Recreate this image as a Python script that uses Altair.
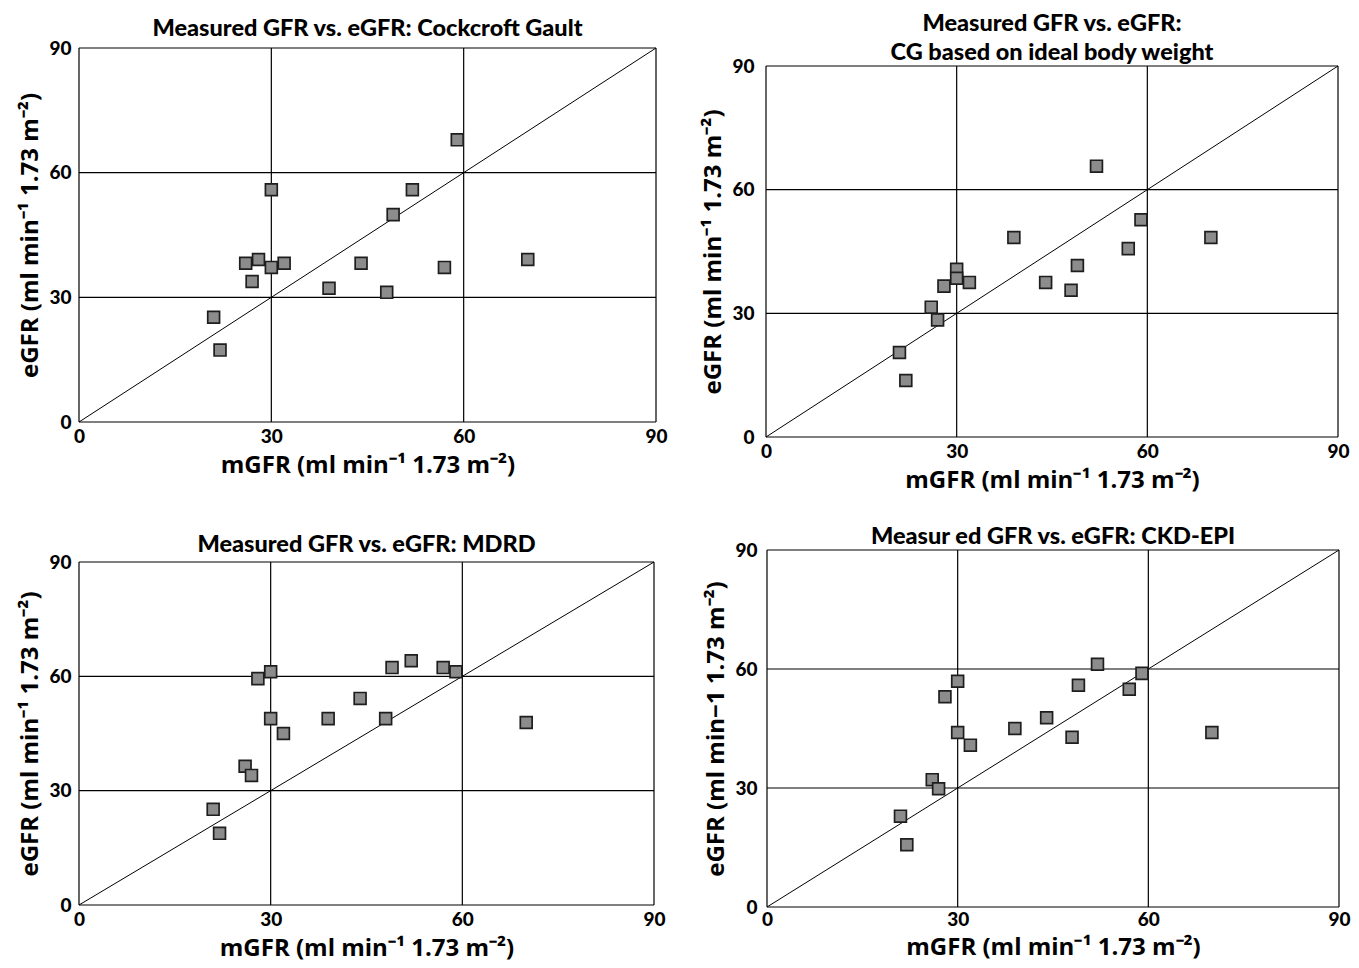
import altair as alt
import pandas as pd

# ---- data ----
mgfr = [21, 22, 26, 27, 28, 30, 30, 32, 39, 44, 48, 49, 52, 57, 59, 70]
egfr_cg = [25.2, 17.3, 38.2, 33.8, 39.1, 55.9, 37.2, 38.2, 32.2, 38.2, 31.2, 49.9, 55.9, 37.2, 67.9, 39.1]
egfr_cg_ibw = [20.5, 13.7, 31.5, 28.4, 36.6, 40.7, 38.5, 37.5, 48.4, 37.5, 35.6, 41.6, 65.7, 45.7, 52.7, 48.4]
egfr_mdrd = [25.1, 18.8, 36.4, 34.0, 59.4, 61.2, 48.9, 45.0, 48.9, 54.2, 48.9, 62.3, 64.1, 62.3, 61.2, 47.9]
egfr_ckdepi = [22.9, 15.7, 32.1, 29.8, 53.0, 56.9, 44.0, 40.8, 45.0, 47.7, 42.8, 55.9, 61.2, 54.9, 58.9, 44.0]

tick_values = [0, 30, 60, 90]
identity_line = [0, 90]

titles = [
    "Measured GFR vs. eGFR: Cockcroft Gault",
    ["Measured GFR vs. eGFR:", "CG based on ideal body weight"],
    "Measured GFR vs. eGFR: MDRD",
    "Measur ed GFR vs. eGFR: CKD-EPI",
]
x_title = "mGFR (ml min\u207b\u00b9 1.73 m\u207b\u00b2)"
y_title = "eGFR (ml min\u207b\u00b9 1.73 m\u207b\u00b2)"
y_title_epi = "eGFR (ml min\u22121 1.73 m\u207b\u00b2)"

TITLE_FONT = "Lato"
AXIS_TITLE_FONT = "Open Sans"
LABEL_FONT = "Lato"


def panel(values, title, w, h, top_pad, ytitle, title_offset, y_label_pad=8,
          x_label_pad=5, x_title_pad=7):
    total_h = h + top_pad
    df = pd.DataFrame({"mGFR": mgfr, "eGFR": values})
    diag = pd.DataFrame({"v": identity_line})
    grid = pd.DataFrame({"v": tick_values})
    xs = alt.Scale(domain=[0, 90], nice=False, zero=False)
    ys = alt.Scale(domain=[0, 90], nice=False, zero=False, range=[total_h, top_pad])
    xax = alt.Axis(values=tick_values, title=x_title, labelPadding=x_label_pad, titlePadding=x_title_pad)
    yax = alt.Axis(values=tick_values, title=ytitle, labelPadding=y_label_pad, titlePadding=6)

    vrules = alt.Chart(grid).mark_rule(color="black", strokeWidth=1.2).encode(
        x=alt.X("v:Q", scale=xs, axis=xax),
        y=alt.Y(datum=0, scale=ys, axis=yax),
        y2=alt.Y2(datum=90),
    )
    hrules = alt.Chart(grid).mark_rule(color="black", strokeWidth=1.2).encode(
        y=alt.Y("v:Q", scale=ys, axis=yax),
        x=alt.X(datum=0, scale=xs, axis=xax),
        x2=alt.X2(datum=90),
    )
    line = alt.Chart(diag).mark_line(color="black", strokeWidth=1).encode(
        x=alt.X("v:Q", scale=xs, axis=xax),
        y=alt.Y("v:Q", scale=ys, axis=yax),
    )
    pts = alt.Chart(df).mark_square(
        size=140, fill="#8c8c8c", stroke="#1e1e1e", strokeWidth=1.7, opacity=1
    ).encode(
        x=alt.X("mGFR:Q", scale=xs, axis=xax),
        y=alt.Y("eGFR:Q", scale=ys, axis=yax),
    )
    return alt.layer(vrules, hrules, line, pts).properties(
        width=w,
        height=total_h,
        title=alt.TitleParams(text=title, offset=title_offset, lineHeight=28.5),
    )


p1 = panel(egfr_cg, titles[0], 577, 374, 0, y_title, -1)
p2 = panel(egfr_cg_ibw, titles[1], 572, 371, 18, y_title, -16, y_label_pad=12)
p3 = panel(egfr_mdrd, titles[2], 575, 343, 12, y_title, -6)
p4 = panel(egfr_ckdepi, titles[3], 572, 357, 0, y_title_epi, -7, y_label_pad=10,
           x_label_pad=3, x_title_pad=6)

row1 = alt.hconcat(p1, p2, spacing=33)
row2 = alt.hconcat(p3, p4, spacing=38)

chart = alt.vconcat(row1, row2, spacing=31).properties(
    padding={"left": 10, "top": 3, "right": 0, "bottom": 3}
).configure_view(
    stroke="transparent"
).configure_axis(
    grid=False,
    domain=False,
    ticks=False,
    labelFont=LABEL_FONT,
    labelFontSize=19,
    labelFontWeight=900,
    labelColor="black",
    titleFont=AXIS_TITLE_FONT,
    titleFontSize=24,
    titleFontWeight="bold",
    titleColor="black",
    labelFlush=False,
).configure_title(
    font=TITLE_FONT,
    fontSize=23.5,
    fontWeight=900,
    color="black",
    anchor="middle",
)

chart.save("out.html", embed_options={"renderer": "svg", "actions": False})
